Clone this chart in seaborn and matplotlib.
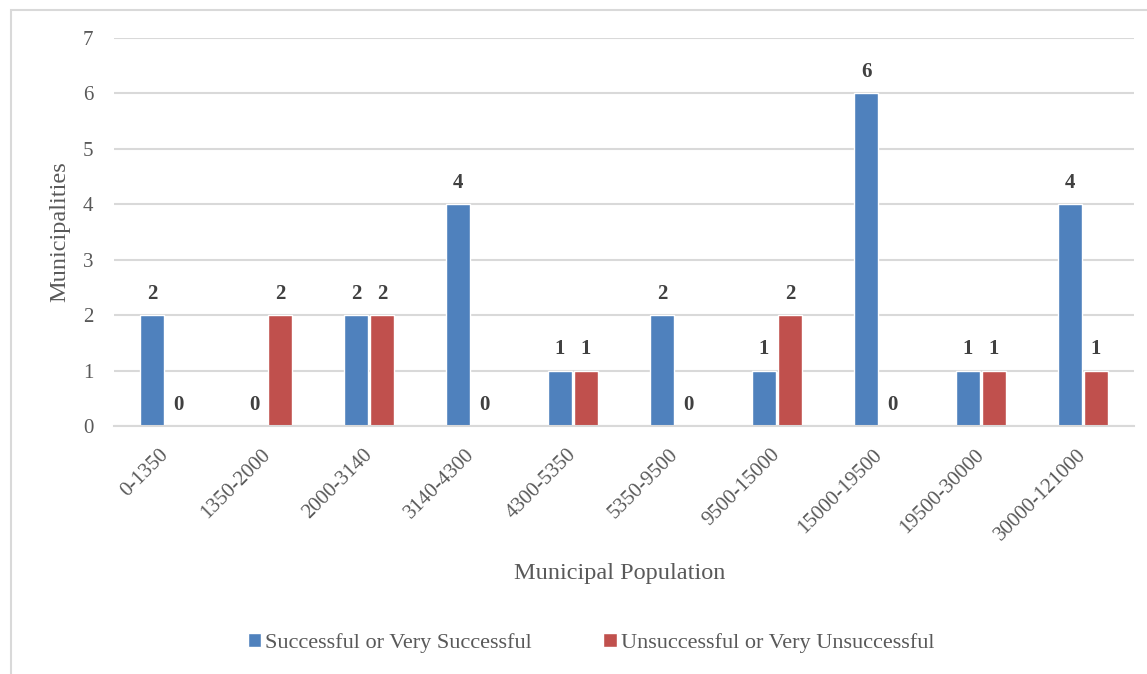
import matplotlib
matplotlib.use("Agg")
import matplotlib.pyplot as plt
import matplotlib.transforms as mtransforms
import pandas as pd
import seaborn as sns
from matplotlib.patches import Rectangle

# Data
population_bins = ["0-1350", "1350-2000", "2000-3140", "3140-4300", "4300-5350",
                   "5350-9500", "9500-15000", "15000-19500", "19500-30000", "30000-121000"]
successful = [2, 0, 2, 4, 1, 2, 1, 6, 1, 4]
unsuccessful = [0, 2, 2, 0, 1, 0, 2, 0, 1, 1]
series_names = ["Successful or Very Successful", "Unsuccessful or Very Unsuccessful"]

df = pd.DataFrame({
    "bin": population_bins * 2,
    "count": successful + unsuccessful,
    "series": [series_names[0]] * len(population_bins) + [series_names[1]] * len(population_bins),
})

sns.set_theme(style="white")
plt.rcParams["font.family"] = ["Liberation Serif", "DejaVu Serif"]
text_grey = "#595959"

fig = plt.figure(figsize=(11.47, 6.74), dpi=100)
ax = fig.add_axes([0.0994, 0.368, 0.8893, 0.5756])

sns.barplot(data=df, x="bin", y="count", hue="series", order=population_bins,
            hue_order=series_names, palette=["#4F81BD", "#C0504D"],
            width=0.51, gap=0.1, saturation=1, ax=ax, legend=True)

for cont in ax.containers:
    ax.bar_label(cont, padding=8, fontsize=15, fontweight="bold", color="#404040")

ax.set_ylim(0, 7)
ax.set_yticks(range(0, 8))
ax.set_xlim(-0.5, len(population_bins) - 0.5)
ax.yaxis.grid(True, color="#D9D9D9", linewidth=1.5)
ax.set_axisbelow(True)
for s in ["top", "right", "left"]:
    ax.spines[s].set_visible(False)
ax.spines["bottom"].set_color("#D9D9D9")
ax.spines["bottom"].set_linewidth(1.5)
ax.tick_params(axis="both", length=0, labelsize=15, colors=text_grey)
ax.tick_params(axis="x", pad=14)
ax.tick_params(axis="y", pad=15)
shift = mtransforms.ScaledTranslation(-6 / 100, 0, fig.dpi_scale_trans)
for lbl in ax.get_xticklabels():
    lbl.set_rotation(45)
    lbl.set_ha("right")
    lbl.set_rotation_mode("anchor")
    lbl.set_transform(lbl.get_transform() + shift)
ax.set_xlabel("")
ax.set_ylabel("")

fig.text(620 / 1147, 1 - 573 / 674, "Municipal Population", fontsize=17.5,
         color=text_grey, ha="center", va="center")
fig.text(60 / 1147, 1 - 232 / 674, "Municipalities", fontsize=17.5,
         color=text_grey, ha="center", va="center", rotation=90)

handles, labels = ax.get_legend_handles_labels()
ax.legend_.remove()
fig.legend(handles, labels, loc="center", bbox_to_anchor=(591 / 1147, 1 - 643 / 674), ncol=2,
           frameon=False, fontsize=16, labelcolor=text_grey, handlelength=0.6,
           handleheight=0.6, handletextpad=0.2, columnspacing=3.2)

# outer chart border (Excel-style frame)
fig.patches.append(Rectangle((11 / 1147, -0.01), 1.0, 1 - 10 / 674 + 0.01,
                             transform=fig.transFigure, fill=False,
                             edgecolor="#D9D9D9", linewidth=1.5))

fig.savefig("out.png", dpi=100)
